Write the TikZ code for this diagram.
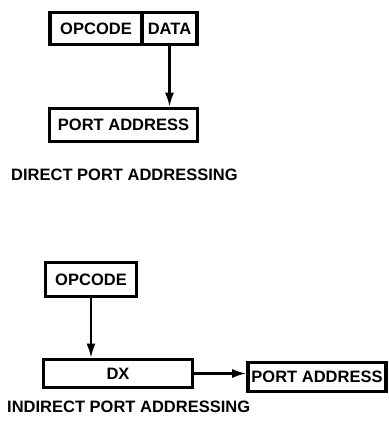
\documentclass[tikz,border=0pt]{standalone}
\usepackage{fontspec}
\setmainfont{Liberation Sans}
\usetikzlibrary{arrows.meta}
\begin{document}
\begin{tikzpicture}[x=1pt, y=-1pt, >={Latex[length=14pt, width=9pt]},
    cell/.style={draw, line width=3.6pt, inner sep=0pt, font=\fontsize{16.5}{19}\selectfont\bfseries},
    flow/.style={->, line width=2.2pt},
    caption/.style={anchor=west, inner sep=0pt, font=\fontsize{16.5}{19}\selectfont\bfseries}]
    \useasboundingbox (0,0) rectangle (388,428);
    % direct port addressing
    \node[cell, minimum width=92pt, minimum height=32pt] (op1) at (96,28.5) {OPCODE};
    \node[cell, minimum width=55pt, minimum height=32pt] (data) at (169.5,28.5) {DATA};
    \node[cell, minimum width=148pt, minimum height=33pt] (port1) at (123.5,125) {PORT ADDRESS};
    \draw[flow] (data.south) -- (data.south |- port1.north);
    \node[caption] (cap1) at (11,175) {DIRECT PORT ADDRESSING};
    % indirect port addressing
    \node[cell, minimum width=91pt, minimum height=34pt] (op2) at (91,279.5) {OPCODE};
    \node[cell, minimum width=149pt, minimum height=28pt] (dx) at (118,373.5) {DX};
    \node[cell, minimum width=138pt, minimum height=29pt] (port2) at (317,377) {PORT ADDRESS};
    \draw[flow] (op2.south) -- (op2.south |- dx.north);
    \draw[flow] (dx.east) -- (dx.east -| port2.west);
    \node[caption] (cap2) at (7,407) {INDIRECT PORT ADDRESSING};
\end{tikzpicture}
\end{document}
